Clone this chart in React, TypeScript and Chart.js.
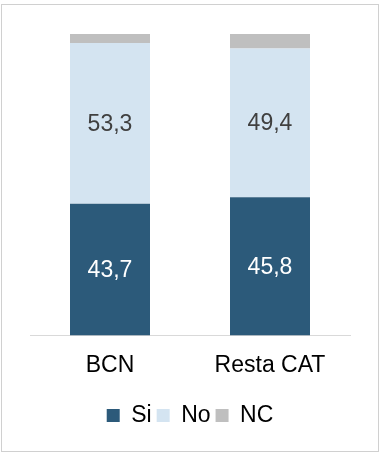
import React, { useEffect, useRef } from "react";
import { Chart, registerables } from "chart.js";

Chart.register(...registerables);

const categories = ["BCN", "Resta CAT"];
const seriesNames = ["Si", "No", "NC"];
const siValues = [43.7, 45.8];
const noValues = [53.3, 49.4];
const ncValues = [3.0, 4.8];
const seriesColors = ["#2c5a7a", "#d4e4f1", "#bfbfbf"];
const labelColors = ["#ffffff", "#404040"];

const FONT = "'Liberation Sans', Arial, sans-serif";

const valueLabels = {
  id: "valueLabels",
  afterDatasetsDraw(chart: any) {
    const ctx = chart.ctx;
    ctx.save();
    ctx.font = `23px ${FONT}`;
    ctx.textAlign = "center";
    ctx.textBaseline = "middle";
    [0, 1].forEach((di) => {
      const meta = chart.getDatasetMeta(di);
      meta.data.forEach((el: any, i: number) => {
        const { x, y, base } = el.getProps(["x", "y", "base"], true);
        const v = chart.data.datasets[di].data[i] as number;
        ctx.fillStyle = labelColors[di];
        ctx.fillText(v.toFixed(1).replace(".", ","), x, (y + base) / 2 + 1);
      });
    });
    ctx.restore();
  },
};

export default function App() {
  const ref = useRef<HTMLCanvasElement | null>(null);
  useEffect(() => {
    if (!ref.current) return;
    const values = [siValues, noValues, ncValues];
    const chart = new Chart(ref.current, {
      type: "bar",
      data: {
        labels: categories,
        datasets: seriesNames.map((name, k) => ({
          label: name,
          data: values[k],
          backgroundColor: seriesColors[k],
          borderWidth: 0,
          categoryPercentage: 1,
          barPercentage: 0.5,
        })),
      },
      options: {
        responsive: false,
        animation: false,
        layout: { padding: { top: 34, left: 30, right: 29, bottom: 15 } },
        plugins: {
          tooltip: { enabled: false },
          legend: {
            position: "bottom",
            labels: {
              boxWidth: 13,
              boxHeight: 13,
              padding: 5,
              color: "#000000",
              font: { family: FONT, size: 23 },
            },
          },
        },
        scales: {
          x: {
            stacked: true,
            grid: { display: false, drawTicks: false },
            border: { display: true, color: "#d9d9d9", width: 1 },
            ticks: {
              padding: 16,
              color: "#000000",
              font: { family: FONT, size: 23 },
            },
            afterFit(scale: any) {
              scale.height += 4;
            },
          },
          y: {
            stacked: true,
            display: false,
            min: 0,
            max: 100,
          },
        },
      },
      plugins: [valueLabels],
    });
    return () => chart.destroy();
  }, []);
  return (
    <div style={{ position: "fixed", left: 0, top: 0, width: 379, height: 452, background: "#fff" }}>
      <div
        style={{
          position: "absolute",
          left: 1,
          top: 4,
          width: 376,
          height: 446,
          border: "1px solid #d0d0d0",
        }}
      />
      <canvas ref={ref} width={379} height={452} style={{ position: "absolute", left: 0, top: 0 }} />
    </div>
  );
}
